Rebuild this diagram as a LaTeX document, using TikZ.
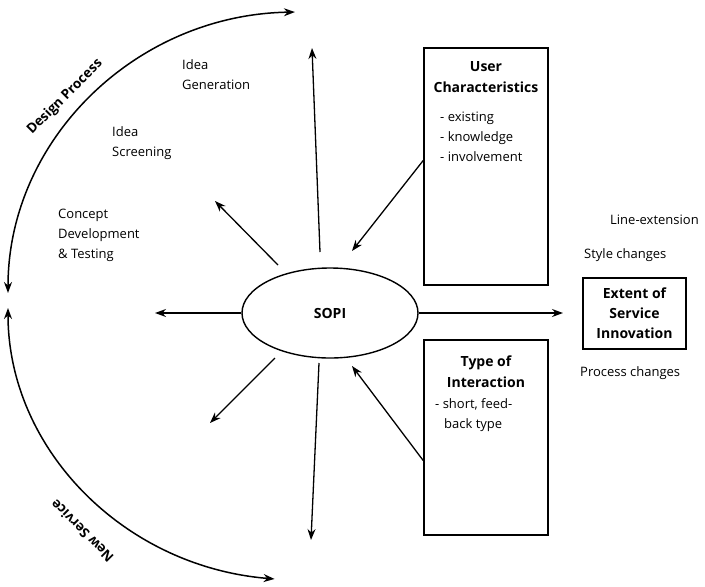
\documentclass[tikz,border=0pt]{standalone}
\usepackage{fontspec}
\setmainfont{Open Sans}
\usetikzlibrary{arrows.meta,shapes.geometric}

\begin{document}
\begin{tikzpicture}[x=1pt,y=1pt,
  tip/.style={-{Stealth[length=11pt,width=8pt]}},
  twotip/.style={{Stealth[length=11pt,width=8pt]}-{Stealth[length=11pt,width=8pt]}},
  ray/.style={line width=1.3pt,tip},
  panel/.style={draw,line width=1.6pt,inner sep=0pt},
  txt/.style={font=\fontsize{13}{20}\selectfont,align=left,inner sep=0pt},
  head/.style={font=\fontsize{14}{21}\selectfont\bfseries,align=center,inner sep=0pt},
  arclabel/.style={font=\fontsize{13.5}{15}\selectfont\bfseries,inner sep=0pt},
]
\useasboundingbox (0,0) rectangle (705,-587);

% central ellipse
\node[ellipse,draw,line width=1.4pt,minimum width=176pt,minimum height=90pt,
      font=\fontsize{14}{16}\selectfont\bfseries] (sopi) at (330,-313) {SOPI};

% side panels
\node[panel,minimum width=124pt,minimum height=237pt] (user) at (486,-166.5) {};
\node[panel,minimum width=124pt,minimum height=195pt] (type) at (486,-437.5) {};
\node[panel,minimum width=103pt,minimum height=71pt,
      font=\fontsize{14}{20}\selectfont\bfseries,align=center] (extent) at (634.5,-313.5)
      {Extent of\\Service\\Innovation};

% panel texts
\node[head] (userhead) at (486,-77) {User\\Characteristics};
\node[txt,anchor=west] (userlist) at (440,-137) {- existing\\- knowledge\\- involvement};
\node[head] (typehead) at (486,-372) {Type of\\Interaction};
\node[txt,anchor=west] (typelist) at (435,-415) {- short, feed-\\\hspace*{9pt}back type};

% stages of the design process
\node[txt,anchor=west] (gen) at (182,-75) {Idea\\Generation};
\node[txt,anchor=west] (scr) at (112,-143) {Idea\\Screening};
\node[txt,anchor=west] (cdt) at (58,-235) {Concept\\Development\\\& Testing};

% innovation outcomes
\node[txt,anchor=west] (line) at (610,-220) {Line-extension};
\node[txt,anchor=west] (style) at (584,-255) {Style changes};
\node[txt,anchor=west] (proc) at (580,-373) {Process changes};

% free ends of the rays
\coordinate (upS) at (320,-252);   \coordinate (upE) at (312,-48);
\coordinate (dnS) at (319,-363);   \coordinate (dnE) at (311,-540);
\coordinate (ltE) at (155,-313);
\coordinate (rtE) at (563,-313);
\coordinate (ulS) at (278,-265);   \coordinate (ulE) at (215,-201);
\coordinate (llS) at (275,-358);   \coordinate (llE) at (210,-423);
\coordinate (inU) at (352,-251);
\coordinate (inT) at (352,-366);

\draw[ray] (upS) -- (upE);
\draw[ray] (dnS) -- (dnE);
\draw[ray] (sopi.west) -- (ltE);
\draw[ray] (sopi.east) -- (rtE);
\draw[ray] (ulS) -- (ulE);
\draw[ray] (llS) -- (llE);
\draw[ray] ([yshift=6pt]user.west) -- (inU);
\draw[ray] ([yshift=-23pt]type.west) -- (inT);

% outer process arcs
\coordinate (arcTop) at (8,-293);
\coordinate (arcBot) at (8,-308);
\draw[line width=1.5pt,twotip] (arcTop) arc[start angle=180,end angle=91,x radius=292,y radius=281];
\draw[line width=1.5pt,twotip] (arcBot) arc[start angle=180,end angle=265,x radius=292,y radius=272];

\node[arclabel,rotate=45] (dp) at (65,-97) {Design Process};
\node[arclabel,rotate=135] (ns) at (82,-531) {New Service};
\end{tikzpicture}
\end{document}
